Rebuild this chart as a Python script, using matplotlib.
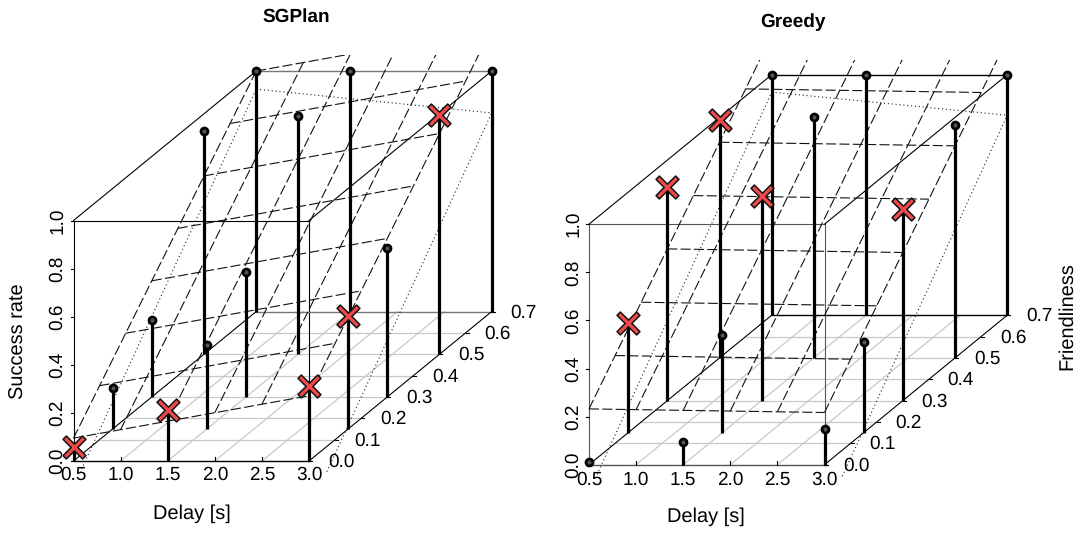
import numpy as np
import matplotlib
matplotlib.use('Agg')
import matplotlib.pyplot as plt
from matplotlib.path import Path

plt.rcParams['font.family'] = ['Liberation Sans', 'DejaVu Sans']
plt.rcParams['text.hinting'] = 'none'
plt.rcParams['text.hinting_factor'] = 1

W, H = 1078, 534

#### data
delay_ticks = [0.5, 1.0, 1.5, 2.0, 2.5, 3.0]
friend_ticks = [0.0, 0.1, 0.2, 0.3, 0.4, 0.5, 0.6, 0.7]
rate_ticks = [0.0, 0.2, 0.4, 0.6, 0.8, 1.0]

delay = [0.5, 1.5, 3.0, 0.5, 1.5, 3.0, 0.5, 1.5, 3.0, 0.5, 1.5, 3.0, 0.5, 1.5, 3.0]
friend = [0.0, 0.0, 0.0, 0.15, 0.15, 0.15, 0.3, 0.3, 0.3, 0.5, 0.5, 0.5, 0.7, 0.7, 0.7]

sgplan_rate = [0.06, 0.21, 0.31, 0.17, 0.35, 0.47, 0.32, 0.52, 0.62, 0.93, 0.99, 0.995, 1.0, 1.0, 1.0]
sgplan_fail = [1, 1, 1, 0, 0, 1, 0, 0, 0, 0, 0, 1, 0, 0, 0]
greedy_rate = [0.01, 0.093, 0.149, 0.458, 0.405, 0.378, 0.89, 0.85, 0.796, 0.9875, 1.0, 0.967, 1.0, 1.0, 1.0]
greedy_fail = [0, 0, 0, 1, 0, 0, 1, 1, 1, 1, 0, 0, 0, 0, 0]

# planes: intercept at (0.5, 0), slope on delay, slope on friendliness
sgplan_dash = [0.095, 0.0705, 1.293]
sgplan_dot = [-0.107, -0.0396, 1.474]
greedy_dash = [0.232, -0.006, 1.33]
greedy_dot = [-0.114, -0.0384, 1.488]

#### pixel layout of a panel
SX, SZ = 94.2, 240.5      # px per delay unit, px per rate unit
DX, DY = 261.0, 213.5     # px per friendliness unit

# scatterplot3d style oblique projection
def proj(x, y, z):
    x, y, z = np.asarray(x, float), np.asarray(y, float), np.asarray(z, float)
    return x + y * DX / SX, z + y * DY / SZ

# a cross with thin arms, for the failed runs
t = 0.29
cross = Path([(-1 + t, -1), (0, -t), (1 - t, -1), (1, -1 + t), (t, 0), (1, 1 - t), (1 - t, 1),
              (0, t), (-1 + t, 1), (-1, 1 - t), (-t, 0), (-1, -1 + t), (-1 + t, -1)], closed=True)

def panel(fig, ox, oy, top, bot, rate, fail, dash, dot, title, title_xy, xlab_xy, xt_off, front, back):
    left, right = ox - 20, ox + 470
    ax = fig.add_axes([left / W, 1 - bot / H, (right - left) / W, (bot - top) / H])
    ax.set_xlim(0.5 + (left - ox) / SX, 0.5 + (right - ox) / SX)
    ax.set_ylim((oy - bot) / SZ, (oy - top) / SZ)
    ax.axis('off')

    x0, x1 = delay_ticks[0], delay_ticks[-1]
    y0, y1 = friend_ticks[0], friend_ticks[-1]

    # floor grid
    for v in friend_ticks[1:-1]:
        px, py = proj([x0, x1], [v, v], [0, 0])
        ax.plot(px, py, color='#c8c8c8', lw=0.9, zorder=1)
    for v in delay_ticks[1:-1]:
        px, py = proj([v, v], [y0, y1], [0, 0])
        ax.plot(px, py, color='#c8c8c8', lw=0.9, zorder=1)

    # box
    for xs, ys, zs, c, w in [([x0, x1], [y0, y0], [0, 0], front, 1.0), ([x0, x1], [y0, y0], [1, 1], front, 0.8),
                             ([x0, x0], [y0, y0], [0, 1], front, 0.8), ([x1, x1], [y0, y0], [0, 1], front, 0.8),
                             ([x0, x1], [y1, y1], [0, 0], back, 1.0), ([x0, x1], [y1, y1], [1, 1], back, 1.0),
                             ([x0, x0], [y0, y1], [0, 0], 'k', 0.8), ([x1, x1], [y0, y1], [0, 0], 'k', 0.8),
                             ([x0, x0], [y0, y1], [1, 1], 'k', 0.8), ([x1, x1], [y0, y1], [1, 1], 'k', 0.8)]:
        px, py = proj(xs, ys, zs)
        ax.plot(px, py, color=c, lw=w, zorder=2)

    # regression planes
    def plane(x, y, c):
        return c[0] + c[1] * (np.asarray(x, float) - 0.5) + c[2] * np.asarray(y, float)
    dash_style = dict(color='#111111', lw=0.8, ls=(0, (9, 3)), zorder=3)
    for v in friend_ticks:
        px, py = proj([x0, x1], [v, v], plane([x0, x1], [v, v], dash))
        ax.plot(px, py, **dash_style)
    for v in delay_ticks:
        px, py = proj([v, v], [y0, y1], plane([v, v], [y0, y1], dash))
        ax.plot(px, py, **dash_style)
    dot_style = dict(color='#222222', lw=0.8, ls=(0, (1, 2.5)), zorder=3)
    for xs, ys in [([x0, x1], [y1, y1]), ([x0, x0], [y0, y1]), ([x1, x1], [y0, y1])]:
        px, py = proj(xs, ys, plane(xs, ys, dot))
        ax.plot(px, py, **dot_style)

    # stems and points
    px, py = proj(delay, friend, rate)
    bx, by = proj(delay, friend, np.zeros(len(delay)))
    ax.vlines(px, by, py, color='k', lw=2.3, zorder=4)
    fail = np.asarray(fail, bool)
    ax.plot(px[~fail], py[~fail], ls='', marker='o', ms=5.0, mfc='#555555', mec='k', mew=2.0, zorder=5, clip_on=False)
    ax.plot(px[fail], py[fail], ls='', marker=cross, ms=16.5, mfc='#f24a4a', mec='#111111', mew=1.1, zorder=6, clip_on=False)

    # ticks and labels
    fs = 14
    for v in delay_ticks:
        tx, ty = proj([v, v], [y0, y0], [0, 4 / SZ])
        ax.plot(tx, ty, color='k', lw=0.8, zorder=2)
        ax.text(proj(v, y0, 0)[0], -xt_off / SZ, '%.1f' % v, fontsize=fs, ha='center', va='center')
    for v in friend_ticks:
        tx, ty = proj(x1, v, 0)
        ax.plot([tx, tx + 3 / SX], [ty, ty], color='k', lw=0.8, zorder=2)
        ax.text(tx + 32 / SX, ty - 1 / SZ, '%.1f' % v, fontsize=fs, ha='center', va='center')
    for v in rate_ticks:
        ax.plot([0.5 - 3 / SX, 0.5], [v, v], color='k', lw=0.8, zorder=2)
        ax.text(0.5 - 16 / SX, v, '%.1f' % v, fontsize=fs, ha='center', va='center', rotation=90)

    fig.text(title_xy[0] / W, 1 - title_xy[1] / H, title, fontsize=13.4, fontweight='bold', ha='center', va='center')
    fig.text(xlab_xy[0] / W, 1 - xlab_xy[1] / H, 'Delay [s]', fontsize=14.2, ha='center', va='center')
    return ax


fig = plt.figure(figsize=(W / 100, H / 100), dpi=100, facecolor='white')

panel(fig, 73.5, 461, 55, 474, sgplan_rate, sgplan_fail, sgplan_dash, sgplan_dot,
      'SGPlan', (296, 17), (192, 514), 14, 'k', '#777777')
panel(fig, 589, 464.7, 60, 477.5, greedy_rate, greedy_fail, greedy_dash, greedy_dot,
      'Greedy', (793, 22), (706, 517), 15, '#555555', 'k')

fig.text(19 / W, 1 - 341 / H, 'Success rate', fontsize=14.4, rotation=90, ha='center', va='center')
fig.text(1067 / W, 1 - 316 / H, 'Friendliness', fontsize=14.4, rotation=90, ha='center', va='center')

fig.savefig('out.png', dpi=100)
